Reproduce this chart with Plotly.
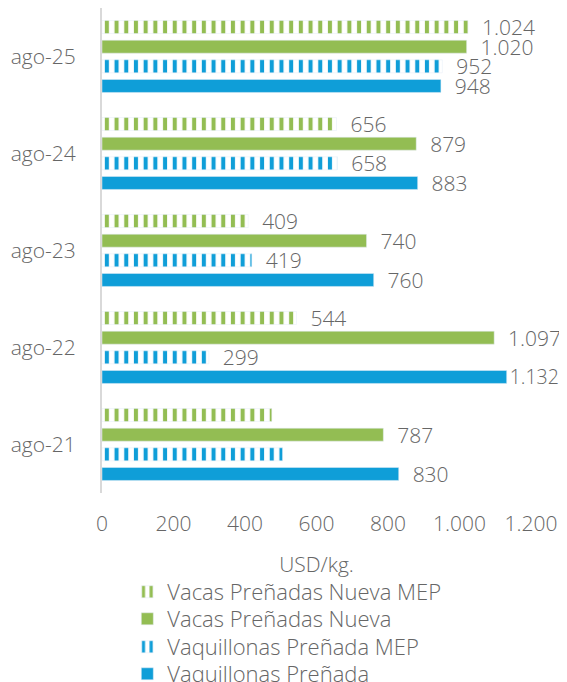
import plotly.graph_objects as go

categories = ["ago-21", "ago-22", "ago-23", "ago-24", "ago-25"]

vaquillonas = [830, 1132, 760, 883, 948]
vaquillonas_mep = [505, 299, 419, 658, 952]
vacas = [787, 1097, 740, 879, 1020]
vacas_mep = [475, 544, 409, 656, 1024]

vaquillonas_lbl = ["830", "1.132", "760", "883", "948"]
vaquillonas_mep_lbl = ["", "299", "419", "658", "952"]
vacas_lbl = ["787", "1.097", "740", "879", "1.020"]
vacas_mep_lbl = ["", "544", "409", "656", "1.024"]

x_ticks = [0, 200, 400, 600, 800, 1000, 1200]
x_tick_labels = ["0", "200", "400", "600", "800", "1.000", "1.200"]

GREEN = "#93BD53"
BLUE = "#0F9ED8"
TXT = "#666666"
FONT = "Open Sans"
FS = 21
W = 300
PAD = "\u00a0\u00a0"
X_MAX = 1200


def pulled_in(v):
    # labels of bars near the right edge are pulled against the bar to stay inside
    return v > 0.92 * X_MAX


def lbl(vals, lst):
    out = []
    for v, s in zip(vals, lst):
        if not s:
            out.append("")
        elif pulled_in(v):
            out.append(s)
        else:
            out.append(PAD + s)
    return out


def fnt(size=FS):
    return dict(family=FONT, size=size, color=TXT, weight=W)


# (name, values, labels, colour, striped, legend id, legend row y in paper coords)
series = [
    ("Vaquillonas Preñada", vaquillonas, vaquillonas_lbl, BLUE, False, "legend4", -0.3732),
    ("Vaquillonas Preñada MEP", vaquillonas_mep, vaquillonas_mep_lbl, BLUE, True, "legend3", -0.3175),
    ("Vacas Preñadas Nueva", vacas, vacas_lbl, GREEN, False, "legend2", -0.2598),
    ("Vacas Preñadas Nueva MEP", vacas_mep, vacas_mep_lbl, GREEN, True, "legend", -0.2041),
]

fig = go.Figure()
legends = {}
for name, vals, labels, color, striped, leg, ly in series:
    marker = dict(color=color)
    if striped:
        marker["pattern"] = dict(shape="|", size=9.7, solidity=0.42, fgcolor=color,
                                 fgopacity=1, bgcolor="white")
    sizes = [FS - 1.5 if pulled_in(v) else FS for v in vals]
    fig.add_trace(go.Bar(
        name=name, y=categories, x=vals, orientation="h",
        marker=marker, text=lbl(vals, labels), textposition="outside",
        constraintext="none", cliponaxis=False,
        textfont=dict(family=FONT, size=sizes, color=TXT, weight=W), legend=leg,
    ))
    legends[leg] = dict(x=0.059, xanchor="left", y=ly, yanchor="middle",
                        font=fnt(22), itemwidth=30, bgcolor="rgba(0,0,0,0)")

fig.update_layout(
    width=559, height=674,
    margin=dict(l=94, r=36, t=0, b=189, autoexpand=False),
    barmode="group", bargap=0.19, bargroupgap=0.34,
    plot_bgcolor="white", paper_bgcolor="white",
    font=fnt(),
    showlegend=True,
    **legends,
)
fig.update_xaxes(range=[0, X_MAX], tickvals=x_ticks, ticktext=x_tick_labels,
                 showgrid=False, zeroline=False, showline=False, automargin=False,
                 ticks="", ticklabelstandoff=16, tickfont=fnt(),
                 title=dict(text="USD/kg.", font=fnt(), standoff=21))
fig.update_yaxes(showgrid=False, zeroline=False, showline=True, linecolor="#D9D9D9", linewidth=2,
                 automargin=False, ticks="", ticklabelstandoff=20, tickfont=fnt())

fig.write_html("out.html")
